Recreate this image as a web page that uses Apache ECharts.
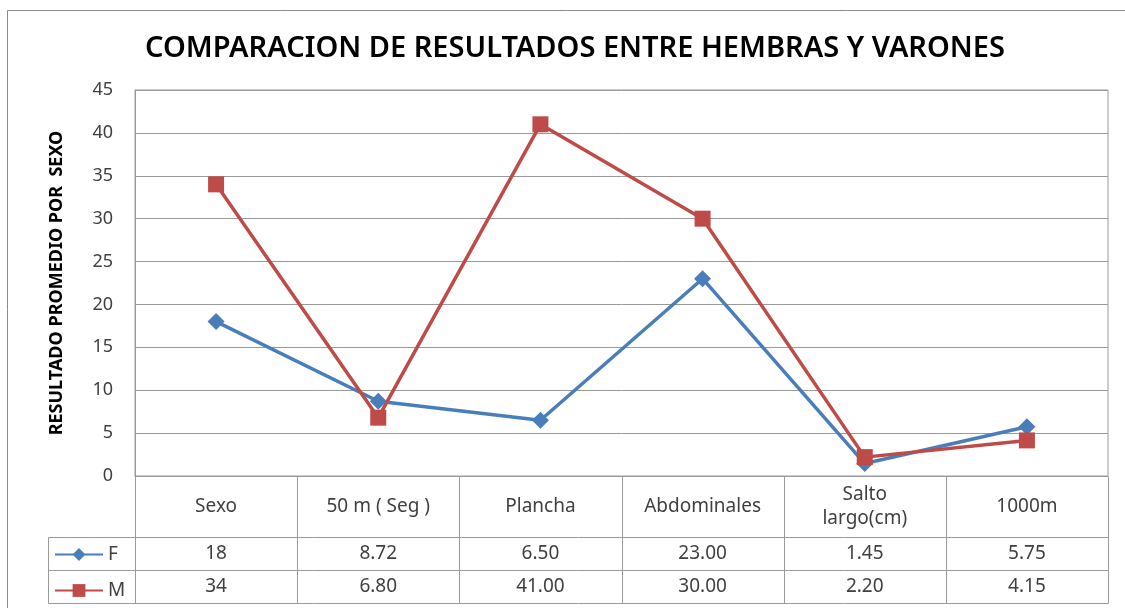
<!DOCTYPE html>
<html>
<head>
<meta charset="utf-8">
<script src="https://cdn.jsdelivr.net/npm/echarts@6/dist/echarts.min.js"></script>
<style>
html, body { margin: 0; padding: 0; background: #fff; }
#chart { width: 1125px; height: 608px; }
</style>
</head>
<body>
<div id="chart"></div>
<script>
// data
var categories = ['Sexo', '50 m ( Seg )', 'Plancha', 'Abdominales', 'Salto\nlargo(cm)', '1000m'];
var valuesF = [18, 8.72, 6.50, 23.00, 1.45, 5.75];
var valuesM = [34, 6.80, 41.00, 30.00, 2.20, 4.15];
var yMin = 0, yMax = 45, yStep = 5;

var blue = '#4A7EBB';
var red = '#BE4B48';
var gridColor = '#9a9a9a';
var txt = '#404040';
var font = '"Noto Sans", "Open Sans", sans-serif';

var chart = echarts.init(document.getElementById('chart'));

chart.setOption({
    animation: false,
    backgroundColor: '#fff',
    title: {
        text: 'COMPARACION DE RESULTADOS ENTRE HEMBRAS Y VARONES',
        left: 570, top: 29, textAlign: 'center',
        textStyle: { fontFamily: font, fontSize: 29, fontWeight: 600, color: '#000' }
    },
    grid: { left: 135, right: 17, top: 90, bottom: 132, show: true, borderColor: gridColor, borderWidth: 1 },
    legend: {
        orient: 'vertical', left: 54, top: 545, padding: 0,
        itemWidth: 48, itemHeight: 16, itemGap: 17,
        textStyle: { fontFamily: font, fontSize: 19, color: txt, padding: [0, 0, 0, 0] },
        data: ['F', 'M']
    },
    xAxis: {
        type: 'category', data: categories, boundaryGap: true,
        axisLine: { lineStyle: { color: gridColor } },
        axisTick: { show: false }, axisLabel: { show: false }
    },
    yAxis: {
        type: 'value', min: yMin, max: yMax, interval: yStep,
        name: 'RESULTADO PROMEDIO POR  SEXO', nameLocation: 'middle', nameGap: 69, nameRotate: 90,
        nameTextStyle: { fontFamily: font, fontSize: 18, fontWeight: 'bold', color: '#000' },
        axisLine: { show: true, lineStyle: { color: gridColor } },
        axisTick: { show: false },
        axisLabel: { fontFamily: font, fontSize: 18, color: txt, margin: 22 },
        splitLine: { lineStyle: { color: gridColor } }
    },
    series: [
        { name: 'F', type: 'line', data: valuesF, color: blue, symbol: 'diamond', symbolSize: 17,
          lineStyle: { width: 3.5 }, itemStyle: { color: blue } },
        { name: 'M', type: 'line', data: valuesM, color: red, symbol: 'rect', symbolSize: 16,
          lineStyle: { width: 3.5 }, itemStyle: { color: red } }
    ]
});

function fmt(v, i) { return i === 0 ? String(v) : v.toFixed(2); }

// data table under the plot, placed from the axis scale
function buildTable() {
    var p0 = chart.convertToPixel({ xAxisIndex: 0 }, 0);
    var p1 = chart.convertToPixel({ xAxisIndex: 0 }, 1);
    var band = p1 - p0;
    var yb = Math.round(chart.convertToPixel({ yAxisIndex: 0 }, yMin)) + 0.5;
    var headH = 61, rowH = 33, legLeft = 48.5;
    var r1 = yb + headH, r2 = r1 + rowH, r3 = r2 + rowH;
    var leftX = Math.round(p0 - band / 2) + 0.5;
    var rightX = Math.round(p0 + band * (categories.length - 0.5)) + 0.5;
    var els = [];
    function line(x1, y1, x2, y2) {
        els.push({ type: 'line', shape: { x1: x1, y1: y1, x2: x2, y2: y2 },
                   style: { stroke: gridColor, lineWidth: 1 }, silent: true });
    }
    function text(x, y, s) {
        els.push({ type: 'text', x: x, y: y, silent: true,
                   style: { text: s, fill: txt, font: '19px ' + font, lineHeight: 24,
                            align: 'center', verticalAlign: 'middle',
                            textAlign: 'center', textVerticalAlign: 'middle' } });
    }
    line(legLeft, r1, rightX, r1);
    line(legLeft, r2, rightX, r2);
    line(legLeft, r3, rightX, r3);
    line(legLeft, r1, legLeft, r3);
    line(leftX, yb, leftX, r3);
    for (var i = 0; i < categories.length; i++) {
        var bx = Math.round(p0 + band * (i + 0.5)) + 0.5;
        line(bx, yb, bx, r3);
        var cx = p0 + band * i;
        text(cx, yb + headH / 2, categories[i]);
        text(cx, r1 + rowH / 2, fmt(valuesF[i], i));
        text(cx, r2 + rowH / 2, fmt(valuesM[i], i));
    }
    // outer chart frame
    els.push({ type: 'rect', shape: { x: 7.5, y: 10.5, width: 1300, height: 800 },
               style: { fill: null, stroke: '#8c8c8c', lineWidth: 1 }, silent: true, z: -1 });
    chart.setOption({ graphic: { elements: els } });
}
buildTable();
</script>
</body>
</html>
